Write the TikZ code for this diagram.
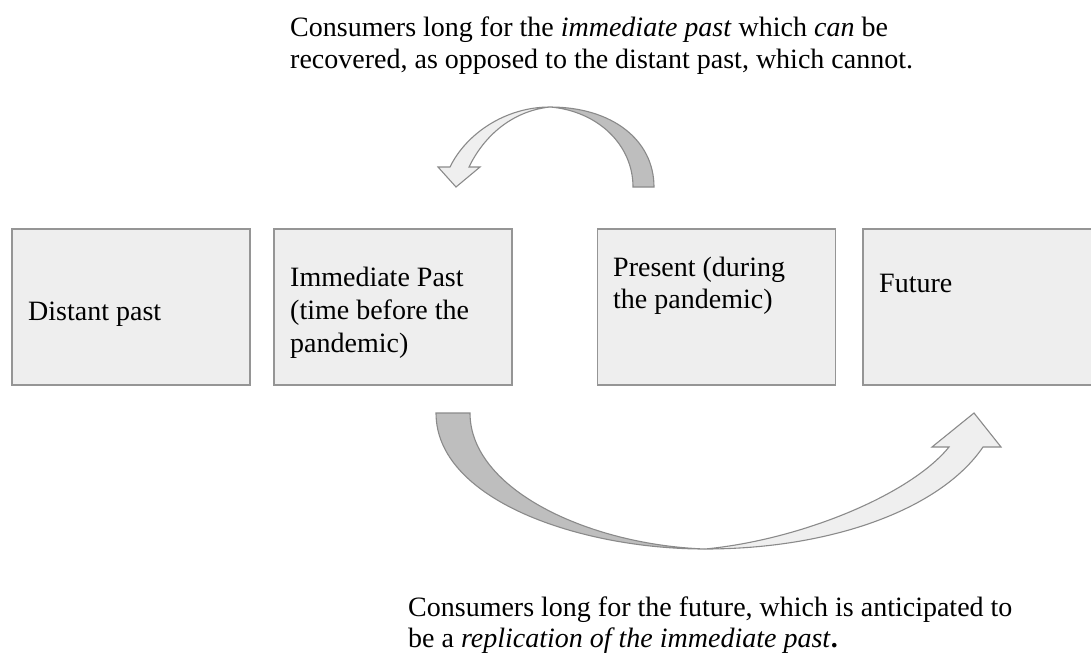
\documentclass[tikz,border=0pt]{standalone}
\usepackage{fontspec}
\setmainfont{Liberation Serif}
\definecolor{boxfill}{HTML}{EEEEEE}
\definecolor{boxline}{HTML}{959595}
\definecolor{lightarr}{HTML}{EFEFEF}
\definecolor{darkarr}{HTML}{BEBEBE}
\definecolor{arrline}{HTML}{8A8A8A}
\begin{document}
\begin{tikzpicture}[x=1pt,y=-1pt,
  box/.style={draw=boxline, fill=boxfill, line width=1.3pt, minimum width=238pt, minimum height=156pt, inner sep=0pt},
  txt/.style={anchor=base west, inner sep=0pt, font=\fontsize{28}{33}\selectfont},
  lightpart/.style={draw=arrline, fill=lightarr, line width=1.1pt, line join=miter},
  darkpart/.style={draw=arrline, fill=darkarr, line width=1.1pt, line join=miter}]
\useasboundingbox (0,0) rectangle (1091,659);
\begin{scope}
\clip (0,0) rectangle (1091,659);
% boxes
\node[box] (b1) at (131,307) {};
\node[box] (b2) at (393,307) {};
\node[box] (b3) at (716.5,307) {};
\node[box] (b4) at (982,307) {};
\end{scope}
% box texts
\node[txt] (d1) at (28,320) {Distant past};
\node[txt] (i1) at (290,286) {Immediate Past};
\node[txt] (i2) at (290,319) {(time before the};
\node[txt] (i3) at (290,352) {pandemic)};
\node[txt] (p1) at (613,276) {Present (during};
\node[txt] (p2) at (613,308) {the pandemic)};
\node[txt] (f1) at (879,292) {Future};
% top caption
\node[txt] (c1) at (290,36) {Consumers long for the \textit{immediate past} which \textit{can} be};
\node[txt] (c2) at (290,68) {recovered, as opposed to the distant past, which cannot.};
% bottom caption
\node[txt] (e1) at (408,616) {Consumers long for the future, which is anticipated to};
\node[txt] (e2) at (408,647) {be a \textit{replication of the immediate past}\textbf{.}};
% top curved arrow
\coordinate (ttop) at (550,107);
\draw[darkpart] (654,187) .. controls (654,140) and (612,107) .. (ttop)
   .. controls (598,111) and (633,145) .. (633,187) -- cycle;
\draw[lightpart] (ttop) .. controls (505,107) and (466,134) .. (450,167)
   -- (438,167) -- (456,187) -- (480,167) -- (469,167)
   .. controls (484,136) and (512,111) .. (ttop) -- cycle;
% bottom curved arrow
\coordinate (bbot) at (705,549);
\draw[darkpart] (436,413) -- (470,413) .. controls (470,490) and (590,545) .. (bbot)
   .. controls (580,549) and (436,500) .. (436,413) -- cycle;
\draw[lightpart] (bbot) .. controls (800,540) and (910,495) .. (949,447)
   -- (932,447) -- (974,413) -- (1001,447) -- (983,447)
   .. controls (940,510) and (830,549) .. (bbot) -- cycle;
\end{tikzpicture}
\end{document}
